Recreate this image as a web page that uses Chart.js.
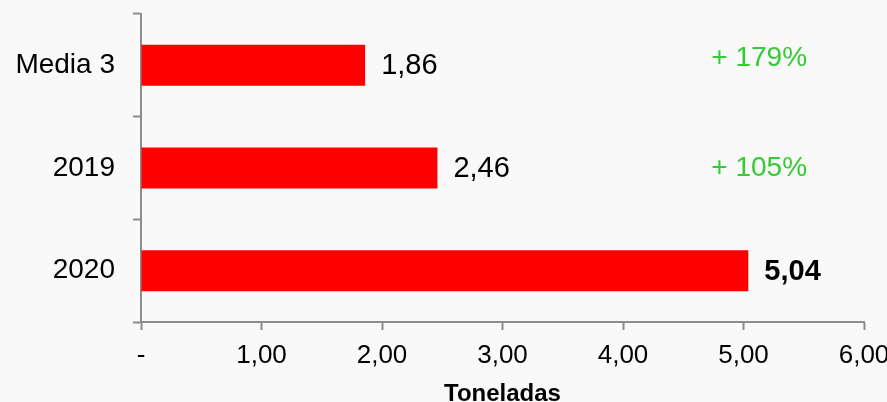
<!DOCTYPE html>
<html>
<head>
<meta charset="utf-8">
<script src="https://cdn.jsdelivr.net/npm/chart.js@4/dist/chart.umd.min.js"></script>
<style>
  html, body { margin: 0; padding: 0; background: #f9f9f9; }
  #wrap { width: 887px; height: 402px; }
</style>
</head>
<body>
<div id="wrap"><canvas id="chart"></canvas></div>
<script>
const categories = ['Media 3', '2019', '2020'];
const values = [1.86, 2.46, 5.04];
const valueLabels = ['1,86', '2,46', '5,04'];
const pctLabels = ['+ 179%', '+ 105%', ''];
const pctX = 5.13;
const xTickLabels = ['-', '1,00', '2,00', '3,00', '4,00', '5,00', '6,00'];

const FONT = '"Liberation Sans", Arial, sans-serif';
const axisGrey = '#8c8c8c';

const bgPlugin = {
    id: 'bg',
    beforeDraw(chart) {
        const ctx = chart.ctx;
        ctx.save();
        ctx.fillStyle = '#f9f9f9';
        ctx.fillRect(0, 0, chart.width, chart.height);
        ctx.restore();
    }
};

const labelPlugin = {
    id: 'barLabels',
    afterDatasetsDraw(chart) {
        const ctx = chart.ctx;
        const meta = chart.getDatasetMeta(0);
        const xs = chart.scales.x;
        ctx.save();
        ctx.textBaseline = 'middle';
        meta.data.forEach((bar, i) => {
            const last = i === values.length - 1;
            ctx.font = (last ? 'bold ' : '') + '29px ' + FONT;
            ctx.fillStyle = '#000';
            ctx.textAlign = 'left';
            ctx.fillText(valueLabels[i], bar.x + 16, bar.y + 1);
            if (pctLabels[i]) {
                ctx.font = '28px ' + FONT;
                ctx.fillStyle = '#33cc33';
                ctx.textAlign = 'center';
                ctx.fillText(pctLabels[i], xs.getPixelForValue(pctX), bar.y - (i === 0 ? 7 : 0));
            }
        });
        ctx.restore();
    }
};

new Chart(document.getElementById('chart'), {
    type: 'bar',
    data: {
        labels: categories,
        datasets: [{
            data: values,
            backgroundColor: '#ff0000',
            borderWidth: 0,
            categoryPercentage: 1,
            barPercentage: 0.4
        }]
    },
    options: {
        indexAxis: 'y',
        responsive: true,
        maintainAspectRatio: false,
        animation: false,
        layout: { padding: { top: 14, right: 23, left: 0, bottom: 0 } },
        plugins: { legend: { display: false }, tooltip: { enabled: false } },
        scales: {
            x: {
                min: 0,
                max: 6,
                ticks: {
                    stepSize: 1,
                    color: '#000',
                    font: { family: FONT, size: 26 },
                    padding: 10,
                    maxRotation: 0,
                    callback: (v, i) => xTickLabels[i]
                },
                grid: { drawOnChartArea: false, tickLength: 8, tickColor: axisGrey, tickWidth: 2 },
                border: { color: axisGrey, width: 2 },
                title: {
                    display: true,
                    text: 'Toneladas',
                    color: '#000',
                    font: { family: FONT, size: 24, weight: 'bold' },
                    padding: { top: 0, bottom: -7 }
                },
                afterFit(scale) { scale.height = 80; scale.paddingRight = 0; }
            },
            y: {
                ticks: {
                    color: '#000',
                    font: { family: FONT, size: 28 },
                    padding: 18
                },
                grid: { offset: true, drawOnChartArea: false, tickLength: 8, tickColor: axisGrey, tickWidth: 2 },
                border: { color: axisGrey, width: 2 },
                afterFit(scale) { scale.width = 141; scale.paddingTop = 0; scale.paddingBottom = 0; }
            }
        }
    },
    plugins: [bgPlugin, labelPlugin]
});
</script>
</body>
</html>
